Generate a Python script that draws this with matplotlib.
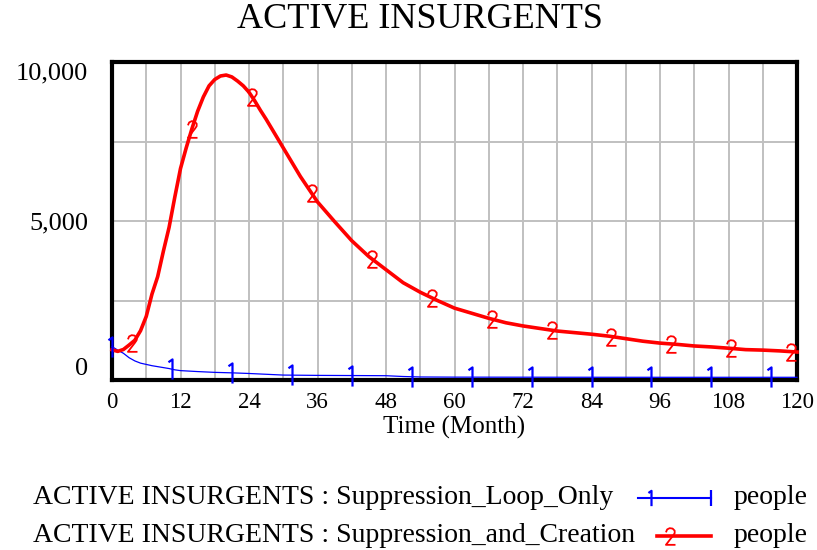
import numpy as np
import matplotlib
matplotlib.use("Agg")
import matplotlib.pyplot as plt
from matplotlib.lines import Line2D
from matplotlib.path import Path
from matplotlib.ticker import MultipleLocator, FixedLocator, FuncFormatter

SERIF = 'Liberation Serif'

# ---------------- data ----------------
title = "ACTIVE INSURGENTS"
x_label = "Time (Month)"
series_names = ["ACTIVE INSURGENTS : Suppression_Loop_Only",
                "ACTIVE INSURGENTS : Suppression_and_Creation"]
unit_label = "people"
x_ticks = [0, 12, 24, 36, 48, 60, 72, 84, 96, 108, 120]
y_ticks = [0, 5000, 10000]

t_creation = [0, 1, 2, 3, 4, 5, 6, 7, 8, 9, 10, 11, 12, 13, 14, 15, 16, 17, 18, 19,
              20, 21, 22, 23, 24, 25, 26, 27, 28, 30, 33, 36, 39, 42, 45, 48, 51, 54,
              57, 60, 63, 66, 69, 72, 75, 78, 81, 84, 87, 90, 93, 96, 99, 102, 105,
              108, 111, 114, 117, 120]
creation = [950, 900, 960, 1100, 1250, 1550, 2000, 2700, 3250, 4050, 4800, 5750, 6650,
            7300, 7900, 8450, 8900, 9250, 9450, 9560, 9590, 9530, 9400, 9250, 9050,
            8780, 8480, 8200, 7900, 7300, 6400, 5600, 4980, 4380, 3880, 3470, 3060,
            2760, 2500, 2260, 2100, 1940, 1800, 1700, 1620, 1540, 1490, 1440, 1380,
            1300, 1220, 1160, 1120, 1070, 1040, 1000, 955, 940, 915, 880]

t_loop = [0, 1, 2, 3, 4, 5, 6, 7, 8, 9, 10, 11, 12, 15, 18, 21, 24, 27, 30, 36, 42,
          48, 51, 54, 60, 72, 84, 96, 108, 120]
loop = [1050, 940, 840, 700, 600, 530, 490, 450, 420, 390, 360, 320, 295, 265, 240,
        225, 205, 180, 155, 145, 140, 135, 110, 95, 90, 88, 86, 85, 85, 85]

loop_marker_t = [0, 10.5, 21, 31.5, 42, 52.5, 63, 73.5, 84, 94.5, 105, 115.5]
creation_marker_t = [3.5, 14, 24.5, 35, 45.5, 56, 66.5, 77, 87.5, 98, 108.5, 119]

# ---------------- marker glyphs (Vensim-style digits) ----------------
one_marker = Path([(-0.4, 0.72), (0, 1.0), (0, -1.0)],
                  [Path.MOVETO, Path.LINETO, Path.LINETO])
two_marker = Path([(-0.55, 0.5), (-0.4, 0.85), (-0.1, 1.0), (0.25, 0.95),
                   (0.5, 0.7), (0.5, 0.4), (0.3, 0.1), (-0.55, -1.0), (0.6, -1.0)],
                  [Path.MOVETO] + [Path.LINETO] * 8)

# ---------------- figure ----------------
W, H = 817, 550
fig = plt.figure(figsize=(W / 100, H / 100), dpi=100)
L, R, T, B = 112, 797, 62, 380
ax = fig.add_axes([L / W, 1 - B / H, (R - L) / W, (B - T) / H])
ax.set_xlim(0, 120)
ax.set_ylim(0, 10000)

ax.xaxis.set_major_locator(FixedLocator(x_ticks))
ax.xaxis.set_minor_locator(MultipleLocator(6))
ax.yaxis.set_major_locator(FixedLocator(y_ticks))
ax.yaxis.set_minor_locator(MultipleLocator(2500))
ax.grid(which='both', color='#c0c0c0', lw=1.4)
ax.set_axisbelow(True)

for s in ax.spines.values():
    s.set_linewidth(3.0)
    s.set_color('black')
    s.set_zorder(2.5)

ax.tick_params(which='both', length=0)
ax.tick_params(axis='x', pad=9, labelsize=16.5)
ax.tick_params(axis='y', pad=17, labelsize=19)
ax.yaxis.set_major_formatter(FuncFormatter(lambda v, p: f"{int(v):,}"))
for lab in ax.get_xticklabels() + ax.get_yticklabels():
    lab.set_family(SERIF)

ylabs = ax.get_yticklabels()
ylabs[0].set_va('bottom')
ylabs[-1].set_va('top')

ax.set_xlabel(x_label, family=SERIF, fontsize=18, labelpad=2)

# series
ax.plot(t_loop, loop, color='#0000ff', lw=0.9, zorder=3, clip_on=False)
ax.plot(loop_marker_t, np.interp(loop_marker_t, t_loop, loop), ls='none',
        marker=one_marker, ms=14.5, mfc='none', mec='#0000ff', mew=1.6,
        zorder=4, clip_on=False)
ax.plot(t_creation, creation, color='#ff0000', lw=2.6, zorder=3.2, clip_on=False)
ax.plot(creation_marker_t, np.interp(creation_marker_t, t_creation, creation),
        ls='none', marker=two_marker, ms=12, mfc='none', mec='#ff0000', mew=1.3,
        zorder=4.2, clip_on=False)

# title
fig.text(420 / W, 1 - 20 / H, title, family=SERIF, fontsize=26, ha='center',
         va='center')

# legend
rows = [498, 536]
for i, (name, y) in enumerate(zip(series_names, rows)):
    fy = 1 - y / H
    fig.text(33 / W, fy, name, family=SERIF, fontsize=20, ha='left', va='center')
    fig.text(734 / W, fy, unit_label, family=SERIF, fontsize=20, ha='left',
             va='center')
    if i == 0:
        fig.add_artist(Line2D([638 / W, 711 / W], [fy, fy], color='#0000ff',
                              lw=1.5, transform=fig.transFigure))
        fig.add_artist(Line2D([651 / W], [fy], marker=one_marker, ms=11,
                              ls='none', mfc='none', mec='#0000ff', mew=1.6,
                              transform=fig.transFigure))
        fig.add_artist(Line2D([711 / W], [fy], marker='|', ms=11, mew=1.6,
                              ls='none', color='#0000ff',
                              transform=fig.transFigure))
    else:
        fig.add_artist(Line2D([657 / W, 711 / W], [fy, fy], color='#ff0000',
                              lw=2.6, transform=fig.transFigure))
        fig.add_artist(Line2D([670 / W], [fy], marker=two_marker, ms=12,
                              ls='none', mfc='none', mec='#ff0000', mew=1.3,
                              transform=fig.transFigure))

fig.savefig('out.png', dpi=100)
